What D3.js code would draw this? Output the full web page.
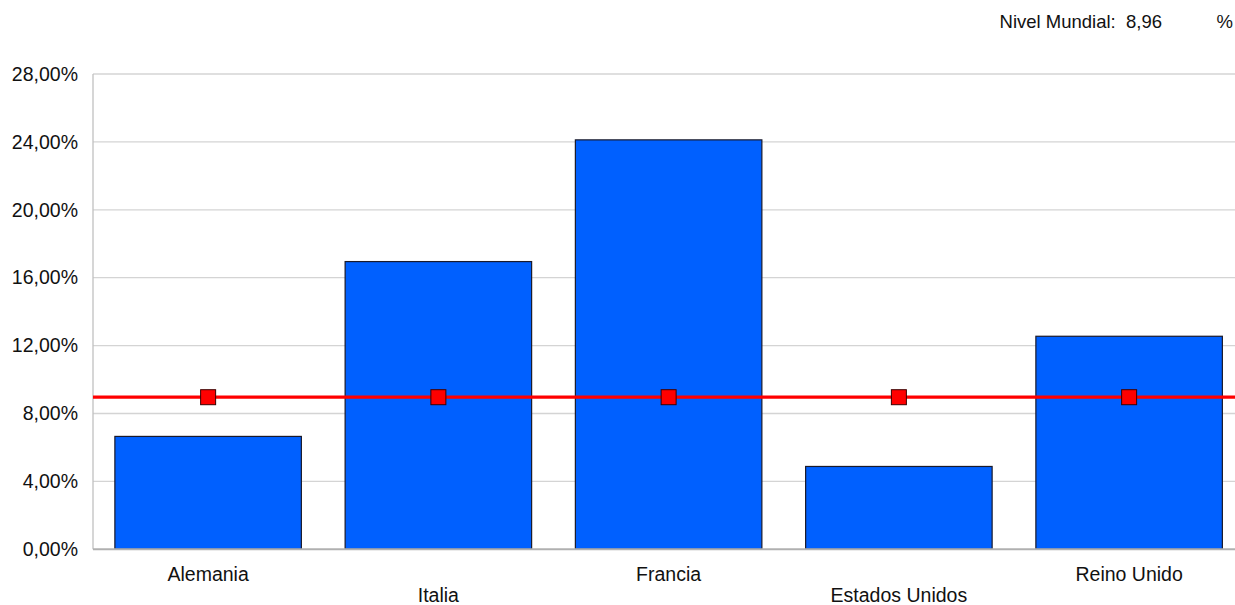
<!DOCTYPE html>
<html><head><meta charset="utf-8">
<script src="https://cdn.jsdelivr.net/npm/d3@7"></script>
<style>body{margin:0;background:#fff;overflow:hidden}svg{display:block;font-family:"Liberation Sans",Arial,sans-serif}</style>
</head><body>
<script>
const categories = ["Alemania","Italia","Francia","Estados Unidos","Reino Unido"];
const values = [6.65, 16.95, 24.12, 4.88, 12.55];
const worldLevel = [8.96, 8.96, 8.96, 8.96, 8.96];
const yTicks = [0,4,8,12,16,20,24,28];

const W=1235,H=605;
const svg=d3.select("body").append("svg").attr("width",W).attr("height",H);
const x=d3.scaleBand().domain(categories).range([93,1244.25]).paddingInner(0.19).paddingOuter(0.095);
const y=d3.scaleLinear().domain([0,28]).range([549.3,74]);
const fmt=v=>d3.format(".2f")(v).replace(".",",")+"%";

// gridlines
svg.append("g").selectAll("line").data(yTicks.filter(d=>d>0)).join("line")
 .attr("x1",93).attr("x2",W).attr("y1",d=>y(d)).attr("y2",d=>y(d))
 .attr("stroke","#d4d4d4").attr("stroke-width",1.3);
// left axis
svg.append("line").attr("x1",93).attr("x2",93).attr("y1",74).attr("y2",549.3).attr("stroke","#c0c0c0").attr("stroke-width",1.3);
// y labels
const yAxis=d3.axisLeft(y).tickValues(yTicks).tickFormat(fmt).tickSize(0).tickPadding(15);
const ga=svg.append("g").attr("transform","translate(93,0)").call(yAxis);
ga.select(".domain").remove();
ga.selectAll("text").attr("font-size",19.5).attr("fill","#111").attr("font-family","Liberation Sans, Arial, sans-serif");

// bars
svg.append("g").selectAll("rect").data(values).join("rect")
 .attr("x",(d,i)=>x(categories[i])).attr("y",d=>y(d))
 .attr("width",x.bandwidth()).attr("height",d=>y(0)-y(d))
 .attr("fill","#0060ff").attr("stroke","#1a1a2a").attr("stroke-width",1.2);

// baseline
svg.append("line").attr("x1",93).attr("x2",W).attr("y1",y(0)).attr("y2",y(0)).attr("stroke","#b0b0b0").attr("stroke-width",2);

// world line
svg.append("line").attr("x1",93).attr("x2",W).attr("y1",y(worldLevel[0])).attr("y2",y(worldLevel[0]))
 .attr("stroke","#ff0000").attr("stroke-width",3.2);
svg.append("g").selectAll("rect").data(worldLevel).join("rect")
 .attr("x",(d,i)=>x(categories[i])+x.bandwidth()/2-7.5).attr("y",d=>y(d)-7.5)
 .attr("width",15).attr("height",15).attr("fill","#ff0000").attr("stroke","#3a0000").attr("stroke-width",1);

// x labels staggered
svg.append("g").selectAll("text").data(categories).join("text")
 .attr("x",d=>x(d)+x.bandwidth()/2).attr("y",(d,i)=>i%2===0?580.5:602)
 .attr("text-anchor","middle").attr("font-size",19.5).attr("fill","#111").text(d=>d);

// header
svg.append("text").attr("x",1162).attr("y",28).attr("text-anchor","end").attr("font-size",18.5).attr("fill","#111")
 .attr("xml:space","preserve").style("white-space","pre").text("Nivel Mundial:  "+worldLevel[0].toFixed(2).replace(".",","));
svg.append("text").attr("x",1233).attr("y",28).attr("text-anchor","end").attr("font-size",18.5).attr("fill","#111").text("%");
</script>
</body></html>
